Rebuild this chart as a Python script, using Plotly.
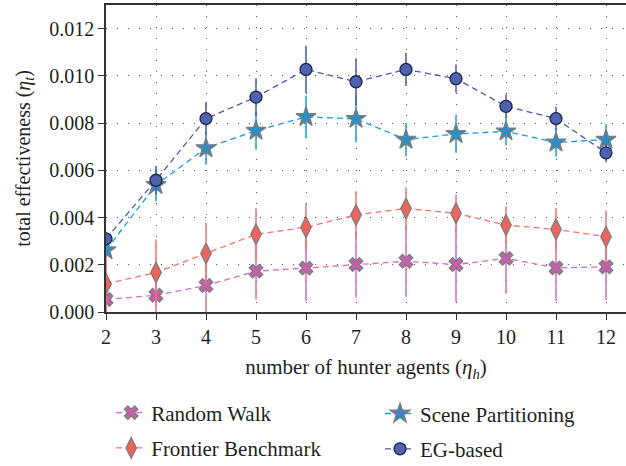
import plotly.graph_objects as go

agents = [2, 3, 4, 5, 6, 7, 8, 9, 10, 11, 12]

random_walk = [0.00053, 0.00071, 0.00112, 0.00173, 0.00186, 0.00201, 0.00215, 0.00201, 0.00227, 0.00187, 0.00191]
random_walk_err = [0.0012, 0.0013, 0.0013, 0.0012, 0.0014, 0.0014, 0.0015, 0.0016, 0.0015, 0.0014, 0.0014]

frontier = [0.00119, 0.00167, 0.00248, 0.00329, 0.00359, 0.00411, 0.00438, 0.00418, 0.00368, 0.00350, 0.00319]
frontier_err = [0.0013, 0.0014, 0.0013, 0.0011, 0.0010, 0.0010, 0.0009, 0.0008, 0.0008, 0.0009, 0.0011]

scene = [0.00262, 0.00538, 0.00694, 0.00768, 0.00826, 0.00818, 0.00730, 0.00754, 0.00765, 0.00718, 0.00730]
scene_err = [0.0003, 0.0007, 0.0007, 0.0008, 0.0009, 0.0010, 0.0007, 0.0008, 0.0006, 0.0006, 0.00065]

eg = [0.00310, 0.00558, 0.00819, 0.00910, 0.01027, 0.00975, 0.01027, 0.00988, 0.00871, 0.00819, 0.00674]
eg_err = [0.0003, 0.0006, 0.0007, 0.0008, 0.0010, 0.0010, 0.0007, 0.0006, 0.0005, 0.0005, 0.0004]

y_ticks = [0.000, 0.002, 0.004, 0.006, 0.008, 0.010, 0.012]

FONT = "Liberation Serif"
TXT = "#231f20"

series = [
    ("Random Walk", random_walk, random_walk_err, "#D56CBF", "#C460AC", "x", 12, "#7d7d7d", "legend"),
    ("Frontier Benchmark", frontier, frontier_err, "#F47272", "#F0645E", "diamond-tall", 15, "#7d7d7d", "legend"),
    ("Scene Partitioning", scene, scene_err, "#1F9BD8", "#2A8FC4", "star", 15, "#7d7d7d", "legend2"),
    ("EG-based", eg, eg_err, "#4A5AA8", "#4E62AD", "circle", 12, "#1d2552", "legend2"),
]

fig = go.Figure()
for name, vals, errs, lc, mfill, msym, size, mline, leg in series:
    fig.add_trace(go.Scatter(
        x=agents, y=vals, name=name, mode="lines+markers",
        line=dict(color=lc, width=1.3, dash="6px,4px"),
        marker=dict(symbol=msym, size=size, color=mfill, line=dict(color=mline, width=1.3)),
        error_y=dict(type="data", array=errs, visible=True, color=lc, thickness=1.5, width=0),
        legend=leg, legendgroup=name,
    ))

fig.update_layout(
    width=626, height=466,
    margin=dict(l=106, r=0, t=5, b=154, autoexpand=False),
    paper_bgcolor="white", plot_bgcolor="white",
    font=dict(family=FONT, size=20, color=TXT),
    showlegend=True,
    legend=dict(x=0.01, y=-0.262, xanchor="left", yanchor="top", tracegroupgap=5,
                font=dict(family=FONT, size=21, color=TXT), bgcolor="rgba(0,0,0,0)"),
    legend2=dict(x=0.527, y=-0.265, xanchor="left", yanchor="top", tracegroupgap=5,
                 font=dict(family=FONT, size=21, color=TXT), bgcolor="rgba(0,0,0,0)"),
    xaxis=dict(
        range=[2, 12.4], tickmode="array", tickvals=agents, automargin=False,
        ticks="outside", ticklen=6, tickcolor="#333", tickwidth=1.2,
        showline=True, linecolor="#333", linewidth=1.5, mirror=True,
        showgrid=True, gridcolor="#555", gridwidth=1, griddash="1px,10px",
        zeroline=False, tickfont=dict(family=FONT, size=20, color=TXT),
        title=dict(text="number of hunter agents (<i>η</i><sub><i>h</i></sub>)",
                   font=dict(family=FONT, size=21, color=TXT), standoff=13),
    ),
    yaxis=dict(
        range=[0, 0.013], tickmode="array", tickvals=y_ticks, tickformat=".3f", automargin=False,
        ticks="outside", ticklen=6, tickcolor="#333", tickwidth=1.2,
        showline=True, linecolor="#333", linewidth=1.5,
        showgrid=True, gridcolor="#555", gridwidth=1, griddash="1px,10px",
        zeroline=False, tickfont=dict(family=FONT, size=20, color=TXT),
        title=dict(text="total effectiveness (<i>η</i><sub><i>t</i></sub>)",
                   font=dict(family=FONT, size=20, color=TXT), standoff=13),
    ),
)

fig.write_html("out.html", config={"displayModeBar": False},
               post_script="document.body.style.margin='0';")
